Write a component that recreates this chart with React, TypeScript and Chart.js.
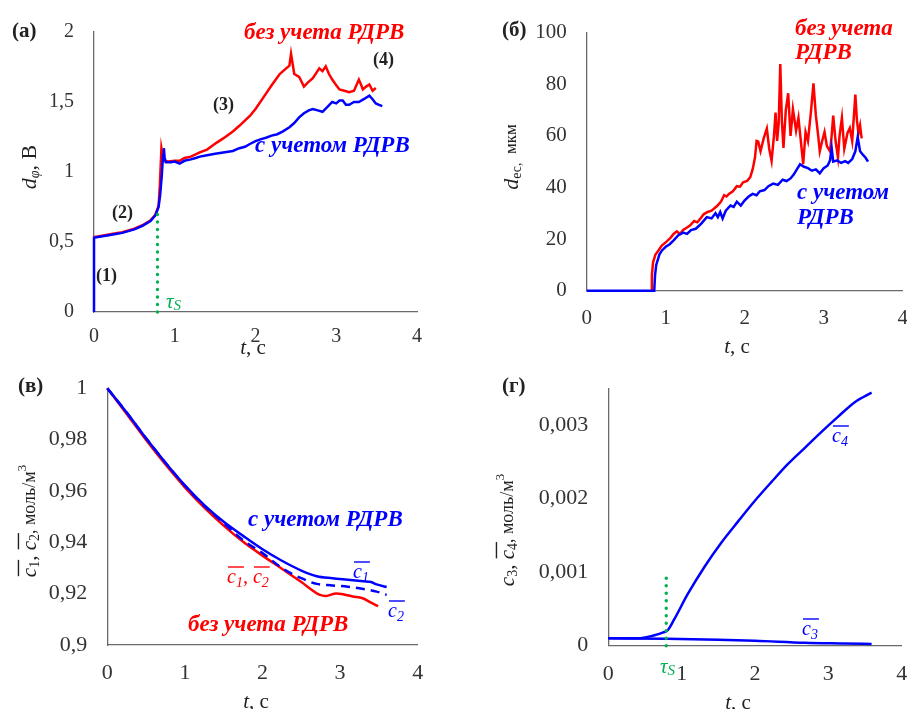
import React, { useEffect, useRef } from "react";
import { Chart, registerables } from "chart.js";

Chart.register(...registerables);

const SERIF = '"Liberation Serif", "Times New Roman", Times, serif';
const RED = "#ff0000";
const BLUE = "#0000ff";
const GREEN = "#00b050";
const AXIS = "#6a6a6a";
const TXT = "#333333";
const INK = "#222222";

// ---------------- data ----------------
const xTicks = [0, 1, 2, 3, 4];
const xTickLabels = ["0", "1", "2", "3", "4"];

// (а) d_phi, В
const yTicksA = [0, 0.5, 1, 1.5, 2];
const yTickLabelsA = ["0", "0,5", "1", "1,5", "2"];
const blueA = [
  [0, 0], [0, 0.53], [0.05, 0.535], [0.2, 0.55], [0.35, 0.565], [0.5, 0.59], [0.6, 0.615], [0.7, 0.65],
  [0.76, 0.69], [0.8, 0.75], [0.82, 0.84], [0.84, 0.98], [0.855, 1.12], [0.865, 1.17], [0.875, 1.1],
  [0.89, 1.07], [0.95, 1.07], [1.0, 1.075], [1.06, 1.06], [1.12, 1.08], [1.2, 1.09], [1.26, 1.1],
  [1.31, 1.11], [1.4, 1.12], [1.5, 1.13], [1.6, 1.14], [1.72, 1.15], [1.8, 1.17], [1.87, 1.18],
  [1.93, 1.2], [2.0, 1.22], [2.07, 1.235], [2.13, 1.245], [2.2, 1.26], [2.27, 1.27], [2.34, 1.29],
  [2.42, 1.32], [2.48, 1.35], [2.54, 1.39], [2.6, 1.42], [2.66, 1.44], [2.71, 1.45], [2.77, 1.44],
  [2.83, 1.43], [2.9, 1.47], [2.95, 1.5], [3.0, 1.49], [3.04, 1.51], [3.08, 1.51], [3.12, 1.48],
  [3.16, 1.48], [3.22, 1.5], [3.28, 1.5], [3.34, 1.52], [3.41, 1.545], [3.45, 1.52], [3.49, 1.49],
  [3.53, 1.48], [3.57, 1.47],
];
const redA = [
  [0, 0.535], [0.05, 0.54], [0.2, 0.555], [0.35, 0.57], [0.5, 0.595], [0.6, 0.62], [0.7, 0.655],
  [0.76, 0.695], [0.8, 0.76], [0.815, 0.9], [0.835, 1.17], [0.85, 1.12], [0.87, 1.08], [0.92, 1.075],
  [1.0, 1.08], [1.06, 1.08], [1.12, 1.1], [1.2, 1.11], [1.31, 1.14], [1.4, 1.16], [1.52, 1.21],
  [1.6, 1.24], [1.72, 1.29], [1.8, 1.33], [1.93, 1.4], [2.0, 1.45], [2.13, 1.56], [2.2, 1.62],
  [2.3, 1.7], [2.38, 1.74], [2.42, 1.76], [2.44, 1.845], [2.48, 1.7], [2.54, 1.68], [2.6, 1.61],
  [2.65, 1.64], [2.71, 1.67], [2.79, 1.74], [2.83, 1.72], [2.87, 1.755], [2.91, 1.7], [2.95, 1.66],
  [3.0, 1.62], [3.04, 1.59], [3.1, 1.58], [3.16, 1.57], [3.22, 1.58], [3.28, 1.66], [3.31, 1.62],
  [3.33, 1.59], [3.37, 1.61], [3.41, 1.625], [3.45, 1.58], [3.49, 1.6],
];
const tauA = [[0.786, 0], [0.786, 0.74]];

// (б) d_ec, мкм
const yTicksB = [0, 20, 40, 60, 80, 100];
const yTickLabelsB = ["0", "20", "40", "60", "80", "100"];
const blueB = [
  [0, 0], [0.855, 0], [0.865, 6], [0.88, 10], [0.92, 14], [0.95, 15.5], [1.0, 17], [1.05, 18],
  [1.1, 19.5], [1.16, 21.5], [1.22, 22.5], [1.27, 22], [1.32, 23.5], [1.38, 24], [1.45, 26],
  [1.52, 28.5], [1.58, 28], [1.63, 30], [1.66, 28.5], [1.69, 30.5], [1.72, 28], [1.76, 31],
  [1.82, 33], [1.86, 32.5], [1.9, 34.5], [1.95, 33], [2.0, 35], [2.05, 36.5], [2.1, 37.5],
  [2.15, 37], [2.19, 38.5], [2.25, 39], [2.3, 40.5], [2.36, 41.5], [2.42, 41], [2.48, 43],
  [2.53, 42.5], [2.58, 43.5], [2.62, 45], [2.66, 47], [2.7, 49], [2.75, 48], [2.8, 47.5],
  [2.85, 46.5], [2.9, 47], [2.95, 45.5], [3.0, 47.5], [3.05, 48.5], [3.08, 50.5], [3.1, 55.3],
  [3.12, 50], [3.17, 50.5], [3.22, 49.5], [3.27, 50.2], [3.31, 49.5], [3.36, 51], [3.4, 54],
  [3.43, 59.5], [3.46, 54], [3.5, 52.5], [3.53, 51.5], [3.56, 50],
];
const redB = [
  [0.815, 0], [0.825, 6], [0.84, 11], [0.87, 14], [0.906, 15.5], [0.95, 17.5], [1.01, 19],
  [1.06, 20.5], [1.1, 22], [1.14, 23], [1.18, 22], [1.22, 23.5], [1.27, 24.5], [1.31, 25.3],
  [1.36, 27], [1.4, 26.5], [1.44, 28], [1.48, 29.6], [1.53, 30.5], [1.58, 31], [1.65, 32.8],
  [1.7, 34.5], [1.74, 37], [1.77, 36.5], [1.8, 37.5], [1.85, 38.5], [1.9, 40.5], [1.94, 40.3],
  [1.98, 42], [2.03, 42.5], [2.07, 44], [2.1, 47], [2.13, 51.6], [2.15, 58], [2.17, 57.8],
  [2.2, 54], [2.24, 59], [2.28, 62.8], [2.31, 55], [2.34, 50.3], [2.37, 60], [2.39, 69],
  [2.41, 58], [2.43, 65], [2.45, 87.8], [2.47, 66], [2.49, 55.3], [2.52, 70], [2.55, 76.5],
  [2.58, 60], [2.61, 70.3], [2.65, 62], [2.68, 67], [2.72, 55], [2.74, 49], [2.77, 61.5],
  [2.8, 58], [2.84, 70], [2.87, 80.3], [2.9, 68], [2.93, 60], [2.95, 54], [2.98, 58],
  [3.01, 61.5], [3.04, 56], [3.08, 54], [3.1, 60], [3.12, 67.8], [3.15, 58], [3.18, 51.6],
  [3.2, 60], [3.23, 67], [3.26, 55], [3.3, 61], [3.33, 63], [3.36, 58], [3.4, 76], [3.42, 66],
  [3.44, 61], [3.46, 64], [3.48, 59],
];

// (в) c1, c2, моль/м3
const yTicksC = [0.9, 0.92, 0.94, 0.96, 0.98, 1];
const yTickLabelsC = ["0,9", "0,92", "0,94", "0,96", "0,98", "1"];
const c1BlueC = [
  [0, 1.0], [0.25, 0.9905], [0.5, 0.9805], [0.75, 0.971], [1.0, 0.9622], [1.25, 0.9545],
  [1.5, 0.948], [1.75, 0.9425], [2.0, 0.9373], [2.25, 0.9328], [2.5, 0.929], [2.7, 0.9268],
  [2.9, 0.926], [3.1, 0.9254], [3.3, 0.9248], [3.4, 0.9245], [3.47, 0.9236], [3.6, 0.9226],
];
const c2BlueC = [
  [0, 1.0], [0.25, 0.9905], [0.5, 0.9805], [0.75, 0.971], [1.0, 0.962], [1.25, 0.9542],
  [1.5, 0.9475], [1.75, 0.9408], [2.0, 0.9358], [2.25, 0.93], [2.5, 0.926], [2.7, 0.9238],
  [2.9, 0.9232], [3.1, 0.9227], [3.3, 0.9218], [3.47, 0.9208], [3.6, 0.9195],
];
const redC = [
  [0, 1.0], [0.25, 0.99], [0.5, 0.9798], [0.75, 0.9703], [1.0, 0.9614], [1.25, 0.9535],
  [1.5, 0.9465], [1.75, 0.9402], [2.0, 0.9348], [2.25, 0.9297], [2.5, 0.9245], [2.74, 0.9195],
  [2.82, 0.9191], [2.95, 0.9201], [3.05, 0.9197], [3.16, 0.9189], [3.29, 0.9182], [3.4, 0.9165],
  [3.49, 0.9151],
];

// (г) c3, c4, моль/м3
const yTicksD = [0, 0.001, 0.002, 0.003];
const yTickLabelsD = ["0", "0,001", "0,002", "0,003"];
const c4D = [
  [0, 0.0001], [0.4, 0.0001], [0.63, 0.000142], [0.75, 0.00018], [0.81, 0.00021], [0.9, 0.00036],
  [1.08, 0.000696], [1.31, 0.00107], [1.54, 0.0014], [1.77, 0.00169], [1.99, 0.00196],
  [2.22, 0.00222], [2.45, 0.00247], [2.68, 0.00269], [2.91, 0.00291], [3.13, 0.00311],
  [3.36, 0.00331], [3.59, 0.00344],
];
const c3D = [
  [0, 0.0001], [0.8, 0.000093], [1.5, 0.00008], [2.0, 0.000067], [2.68, 0.00004], [3.2, 0.00003],
  [3.59, 0.000023],
];
const tauD = [[0.79, 0], [0.79, 0.001]];

// ---------------- helpers ----------------
type Seg = { t: string; s: number; i?: boolean; b?: boolean; dy?: number; ol?: boolean };
type Ann = { x: number; y: number; segs: Seg[]; color: string; align?: "left" | "center"; rot?: boolean };

const S = (t: string, s: number, o: Partial<Seg> = {}): Seg => ({ t, s, ...o });
const fontOf = (g: Seg) => `${g.i ? "italic " : ""}${g.b ? "bold " : ""}${g.s}px ${SERIF}`;

function drawRich(ctx: CanvasRenderingContext2D, a: Ann, ox: number, oy: number) {
  ctx.save();
  ctx.fillStyle = a.color;
  ctx.strokeStyle = a.color;
  ctx.textBaseline = "middle";
  ctx.textAlign = "left";
  const widths = a.segs.map((g) => {
    ctx.font = fontOf(g);
    return ctx.measureText(g.t).width;
  });
  const total = widths.reduce((p, c) => p + c, 0);
  ctx.translate(a.x - ox, a.y - oy);
  if (a.rot) ctx.rotate(-Math.PI / 2);
  let cx = a.align === "center" ? -total / 2 : 0;
  a.segs.forEach((g, k) => {
    ctx.font = fontOf(g);
    ctx.fillText(g.t, cx, g.dy || 0);
    if (g.ol) {
      const len = widths[k] + (widths[k + 1] || 0);
      ctx.lineWidth = 1.4;
      ctx.beginPath();
      const yy = -g.s * 0.55;
      ctx.moveTo(cx + 1, yy);
      ctx.lineTo(cx + len + 1, yy);
      ctx.stroke();
    }
    cx += widths[k];
  });
  ctx.restore();
}

const pts = (a: number[][]) => a.map(([x, y]) => ({ x, y }));

function line(data: number[][], color: string, extra: any = {}) {
  return {
    data: pts(data),
    borderColor: color,
    backgroundColor: color,
    borderWidth: 2.5,
    pointRadius: 0,
    pointHoverRadius: 0,
    tension: 0,
    fill: false,
    clip: 4,
    ...extra,
  };
}

function dotted(data: number[][]) {
  return line(data, GREEN, { borderWidth: 3.4, borderDash: [0.1, 7.4], borderCapStyle: "round" });
}

type PanelCfg = {
  left: number; top: number; width: number; height: number;
  ymin: number; ymax: number; yt: number[]; yl: string[];
  yW: number; xH: number; pr: number; pt: number; fs: number; xPad: number;
  datasets: any[]; ann: Ann[];
};

function buildConfig(c: PanelCfg): any {
  return {
    type: "line",
    data: { datasets: c.datasets },
    options: {
      animation: false,
      responsive: false,
      maintainAspectRatio: false,
      events: [],
      layout: { padding: { left: 0, right: c.pr, top: c.pt, bottom: 0 } },
      plugins: { legend: { display: false }, tooltip: { enabled: false } },
      scales: {
        x: {
          type: "linear",
          min: 0,
          max: 4,
          afterBuildTicks: (s: any) => { s.ticks = xTicks.map((v) => ({ value: v })); },
          ticks: {
            callback: (_v: any, i: number) => xTickLabels[i],
            font: { family: SERIF, size: c.fs },
            color: TXT,
            padding: c.xPad,
            maxRotation: 0,
            autoSkip: false,
          },
          grid: { display: false, drawTicks: false },
          border: { display: true, color: AXIS, width: 1.3 },
          afterFit: (s: any) => { s.height = c.xH; },
        },
        y: {
          type: "linear",
          min: c.ymin,
          max: c.ymax,
          afterBuildTicks: (s: any) => { s.ticks = c.yt.map((v) => ({ value: v })); },
          ticks: {
            callback: (_v: any, i: number) => c.yl[i],
            font: { family: SERIF, size: c.fs },
            color: TXT,
            padding: 20,
            autoSkip: false,
          },
          grid: { display: false, drawTicks: false },
          border: { display: true, color: AXIS, width: 1.3 },
          afterFit: (s: any) => { s.width = c.yW; },
        },
      },
    },
    plugins: [
      {
        id: "annotations",
        afterDraw(chart: any) {
          c.ann.forEach((a) => drawRich(chart.ctx, a, c.left, c.top));
        },
      },
    ],
  };
}

function Panel({ cfg }: { cfg: PanelCfg }) {
  const ref = useRef<HTMLCanvasElement>(null);
  useEffect(() => {
    const chart = new Chart(ref.current as HTMLCanvasElement, buildConfig(cfg));
    return () => chart.destroy();
  }, []);
  return (
    <canvas
      ref={ref}
      width={cfg.width}
      height={cfg.height}
      style={{ position: "absolute", left: cfg.left, top: cfg.top, width: cfg.width, height: cfg.height }}
    />
  );
}

// ---------------- panels ----------------
const LBL = 23;
const tTitle = (x: number, y: number, s: number): Ann => ({
  x, y, color: INK, align: "center", segs: [S("t", s, { i: true }), S(", с", s)],
});
const tau = (x: number, y: number): Ann => ({
  x, y, color: GREEN, segs: [S("τ", 21, { i: true }), S("S", 15, { i: true, dy: 4 })],
});

const panelA: PanelCfg = {
  left: 0, top: 0, width: 453, height: 360,
  ymin: 0, ymax: 2, yt: yTicksA, yl: yTickLabelsA,
  yW: 94, xH: 48, pr: 36, pt: 22.5, fs: 20, xPad: 13,
  datasets: [dotted(tauA), line(blueA, BLUE), line(redA, RED)],
  ann: [
    { x: 12, y: 32, color: INK, segs: [S("(а)", 21, { b: true })] },
    { x: 244, y: 33, color: RED, segs: [S("без учета РДРВ", LBL, { b: true, i: true })] },
    { x: 255, y: 146, color: BLUE, segs: [S("с учетом РДРВ", LBL, { b: true, i: true })] },
    { x: 96, y: 276, color: INK, segs: [S("(1)", 18, { b: true })] },
    { x: 112, y: 213, color: INK, segs: [S("(2)", 18, { b: true })] },
    { x: 213, y: 105, color: INK, segs: [S("(3)", 18, { b: true })] },
    { x: 373, y: 60, color: INK, segs: [S("(4)", 18, { b: true })] },
    tau(166, 302),
    tTitle(253, 348, 21),
    {
      x: 30, y: 167, color: INK, align: "center", rot: true,
      segs: [S("d", 22, { i: true }), S("φ", 14, { i: true, dy: 5 }), S(", В", 22)],
    },
  ],
};

const panelB: PanelCfg = {
  left: 453, top: 0, width: 470, height: 360,
  ymin: 0, ymax: 100, yt: yTicksB, yl: yTickLabelsB,
  yW: 133.7, xH: 69.3, pr: 20, pt: 24.5, fs: 21, xPad: 15,
  datasets: [line(blueB, BLUE), line(redB, RED)],
  ann: [
    { x: 502, y: 31, color: INK, segs: [S("(б)", 21, { b: true })] },
    { x: 795, y: 29, color: RED, segs: [S("без учета", LBL, { b: true, i: true })] },
    { x: 795, y: 53, color: RED, segs: [S("РДРВ", LBL, { b: true, i: true })] },
    { x: 797, y: 193, color: BLUE, segs: [S("с учетом", LBL, { b: true, i: true })] },
    { x: 797, y: 218, color: BLUE, segs: [S("РДРВ", LBL, { b: true, i: true })] },
    tTitle(737, 347, 21),
    {
      x: 512, y: 157, color: INK, align: "center", rot: true,
      segs: [S("d", 22, { i: true }), S("ес,", 14, { dy: 5 }), S("  мкм", 17)],
    },
  ],
};

const panelC: PanelCfg = {
  left: 0, top: 355, width: 453, height: 354,
  ymin: 0.9, ymax: 1, yt: yTicksC, yl: yTickLabelsC,
  yW: 107.3, xH: 64, pr: 35.3, pt: 25, fs: 22, xPad: 15,
  datasets: [
    line(c1BlueC, BLUE, { cubicInterpolationMode: "monotone" }),
    line(c2BlueC, BLUE, { cubicInterpolationMode: "monotone", borderDash: [9, 6] }),
    line(redC, RED, { cubicInterpolationMode: "monotone" }),
  ],
  ann: [
    { x: 18, y: 387, color: INK, segs: [S("(в)", 21, { b: true })] },
    { x: 248, y: 520, color: BLUE, segs: [S("с учетом РДРВ", LBL, { b: true, i: true })] },
    {
      x: 227, y: 578, color: RED,
      segs: [S("c", 20, { i: true, ol: true }), S("1", 14, { i: true, dy: 5 }), S(", ", 20, { i: true }),
        S("c", 20, { i: true, ol: true }), S("2", 14, { i: true, dy: 5 })],
    },
    { x: 353, y: 573, color: BLUE, segs: [S("c", 20, { i: true, ol: true }), S("1", 14, { i: true, dy: 5 })] },
    { x: 388, y: 612, color: BLUE, segs: [S("c", 20, { i: true, ol: true }), S("2", 14, { i: true, dy: 5 })] },
    { x: 188, y: 625, color: RED, segs: [S("без учета РДРВ", LBL, { b: true, i: true })] },
    tTitle(256, 702, 21),
    {
      x: 30, y: 521, color: INK, align: "center", rot: true,
      segs: [S("c", 21, { i: true, ol: true }), S("1", 14, { dy: 5 }), S(", ", 21),
        S("c", 21, { i: true, ol: true }), S("2", 14, { dy: 5 }), S(", моль/м", 18), S("3", 13, { dy: -7 })],
    },
  ],
};

const panelD: PanelCfg = {
  left: 453, top: 355, width: 470, height: 354,
  ymin: 0, ymax: 0.0035, yt: yTicksD, yl: yTickLabelsD,
  yW: 155.3, xH: 63.3, pr: 21.3, pt: 27.2, fs: 22, xPad: 15,
  datasets: [
    dotted(tauD),
    line(c4D, BLUE, { cubicInterpolationMode: "monotone" }),
    line(c3D, BLUE, { cubicInterpolationMode: "monotone" }),
  ],
  ann: [
    { x: 502, y: 387, color: INK, segs: [S("(г)", 21, { b: true })] },
    { x: 832, y: 437, color: BLUE, segs: [S("c", 20, { i: true, ol: true }), S("4", 14, { i: true, dy: 5 })] },
    { x: 802, y: 630, color: BLUE, segs: [S("c", 20, { i: true, ol: true }), S("3", 14, { i: true, dy: 5 })] },
    tau(660, 667),
    tTitle(738, 703, 21),
    {
      x: 508, y: 530, color: INK, align: "center", rot: true,
      segs: [S("c", 21, { i: true }), S("3", 14, { dy: 5 }), S(", ", 21),
        S("c", 21, { i: true, ol: true }), S("4", 14, { dy: 5 }), S(", моль/м", 18), S("3", 13, { dy: -7 })],
    },
  ],
};

export default function App() {
  return (
    <div
      style={{
        position: "absolute", left: 0, top: 0, width: 907, height: 709,
        overflow: "hidden", background: "#ffffff",
      }}
    >
      <Panel cfg={panelA} />
      <Panel cfg={panelB} />
      <Panel cfg={panelC} />
      <Panel cfg={panelD} />
    </div>
  );
}
